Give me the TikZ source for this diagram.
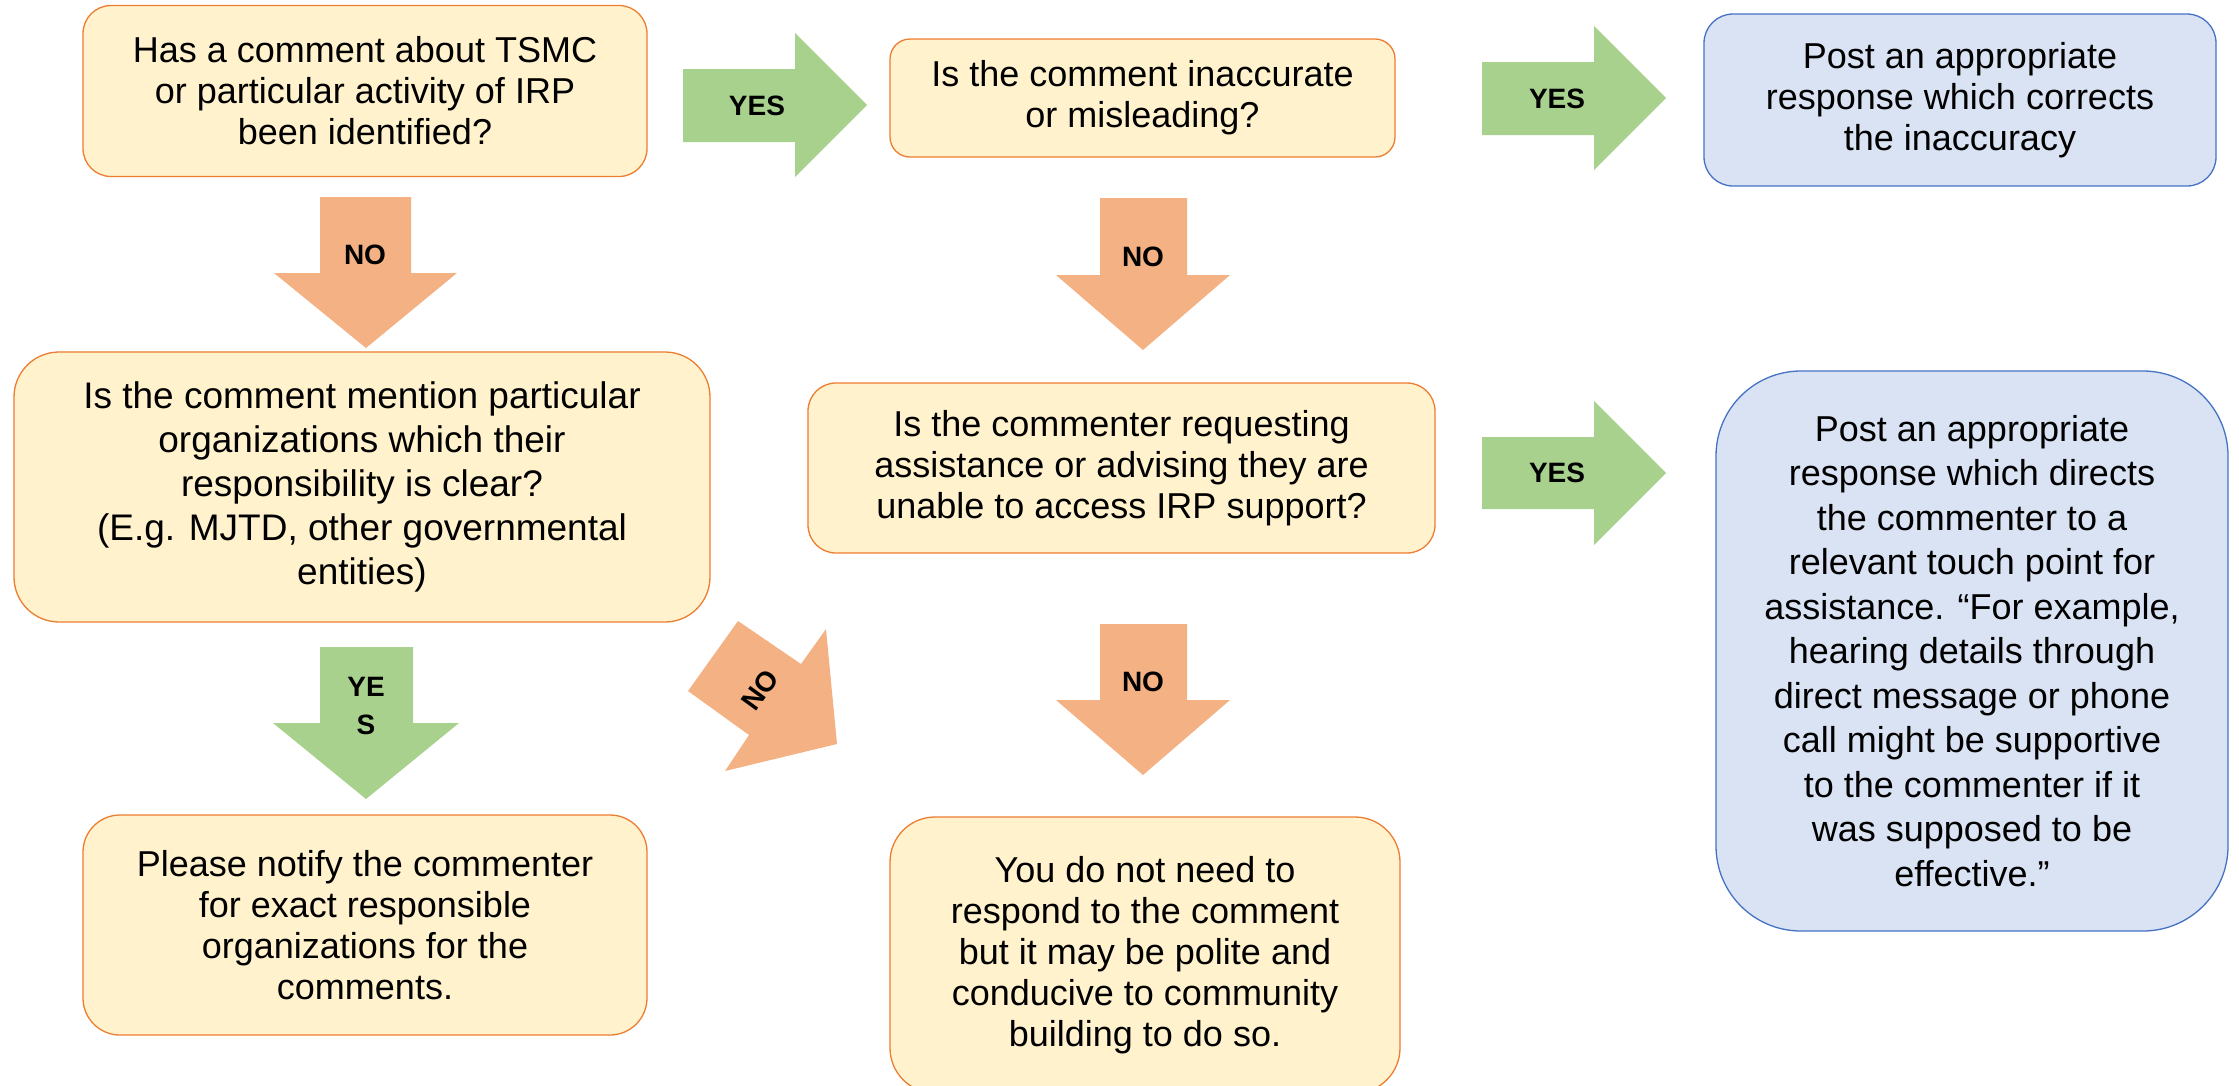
\documentclass[tikz,border=0pt]{standalone}
\usepackage{fontspec}
\setmainfont{Liberation Sans}
\definecolor{boxfill}{HTML}{FFF2CC}
\definecolor{boxdraw}{HTML}{ED7D31}
\definecolor{bluefill}{HTML}{DAE3F3}
\definecolor{bluedraw}{HTML}{4472C4}
\definecolor{yesgreen}{HTML}{A9D18E}
\definecolor{noorange}{HTML}{F4B183}
\begin{document}
\begin{tikzpicture}[x=1pt,y=-1pt,
  obox/.style={draw=boxdraw, fill=boxfill, line width=1.3pt, align=center, inner sep=0pt,
    font=\fontsize{36}{41}\selectfont},
  bbox/.style={obox, draw=bluedraw, fill=bluefill},
  yesarrow/.style={fill=yesgreen},
  noarrow/.style={fill=noorange},
  lbl/.style={font=\bfseries\fontsize{28}{38}\selectfont, inner sep=0pt, align=center}]
\useasboundingbox (0,0) rectangle (2239,1085);
\clip (0,0) rectangle (2239,1085);

% boxes
\node[obox, minimum width=564pt, minimum height=171pt, rounded corners=28pt] (A) at (365,91)
  {Has a comment about TSMC\\or particular activity of IRP\\been identified?};
\node[obox, minimum width=505pt, minimum height=118pt, rounded corners=20pt] (B) at (1142.5,98)
  {Is the comment inaccurate\\or misleading?};
\node[bbox, minimum width=512pt, minimum height=172pt, rounded corners=29pt] (C) at (1960,100)
  {Post an appropriate\\response which corrects\\the inaccuracy};
\node[obox, minimum width=696pt, minimum height=270pt, rounded corners=45pt,
  font=\fontsize{37}{44}\selectfont] (D) at (362,487)
  {Is the comment mention particular\\organizations which their\\responsibility is clear?\\(E.g. MJTD, other governmental\\entities)};
\node[obox, minimum width=627pt, minimum height=170pt, rounded corners=28pt] (E) at (1121.5,468)
  {Is the commenter requesting\\assistance or advising they are\\unable to access IRP support?};
\node[bbox, minimum width=512pt, minimum height=560pt, rounded corners=85pt,
  font=\fontsize{36}{44.5}\selectfont] (F) at (1972,651)
  {Post an appropriate\\response which directs\\the commenter to a\\relevant touch point for\\assistance. “For example,\\hearing details through\\direct message or phone\\call might be supportive\\to the commenter if it\\was supposed to be\\effective.”};
\node[obox, minimum width=564pt, minimum height=220pt, rounded corners=37pt] (G) at (365,925)
  {Please notify the commenter\\for exact responsible\\organizations for the\\comments.};
\node[obox, minimum width=510pt, minimum height=276pt, rounded corners=45pt] (H) at (1145,955)
  {You do not need to\\respond to the comment\\but it may be polite and\\conducive to community\\building to do so.};

% block arrows
\fill[yesarrow] (683,69)--(795,69)--(795,33)--(867,105)--(795,177)--(795,142)--(683,142)--cycle;
\node[lbl] (yes1) at (757,106) {YES};
\fill[yesarrow] (1482,62)--(1594,62)--(1594,26)--(1666,98)--(1594,170)--(1594,135)--(1482,135)--cycle;
\node[lbl] (yes2) at (1557,99) {YES};
\fill[yesarrow] (1482,437)--(1594,437)--(1594,401)--(1666,473)--(1594,545)--(1594,509)--(1482,509)--cycle;
\node[lbl] (yes3) at (1557,473) {YES};
\fill[noarrow] (320,197)--(411,197)--(411,273)--(457,273)--(366,348)--(274,273)--(320,273)--cycle;
\node[lbl] (no1) at (365,255) {NO};
\fill[noarrow] (1100,198)--(1187,198)--(1187,275)--(1230,275)--(1143,350)--(1056,275)--(1100,275)--cycle;
\node[lbl] (no2) at (1143,257) {NO};
\fill[noarrow] (1100,624)--(1187,624)--(1187,700)--(1230,700)--(1143,775)--(1056,700)--(1100,700)--cycle;
\node[lbl] (no3) at (1143,682) {NO};
\fill[yesarrow] (320,647)--(413,647)--(413,723)--(459,723)--(366,799)--(273,723)--(320,723)--cycle;
\node[lbl] (yes4) at (366,706) {YE\\S};
\fill[noarrow] (738,621)--(801,664)--(826,629)--(837,744)--(725,771)--(749,735)--(688,691)--cycle;
\node[lbl, rotate=54] (no4) at (760,690) {NO};
\end{tikzpicture}
\end{document}
